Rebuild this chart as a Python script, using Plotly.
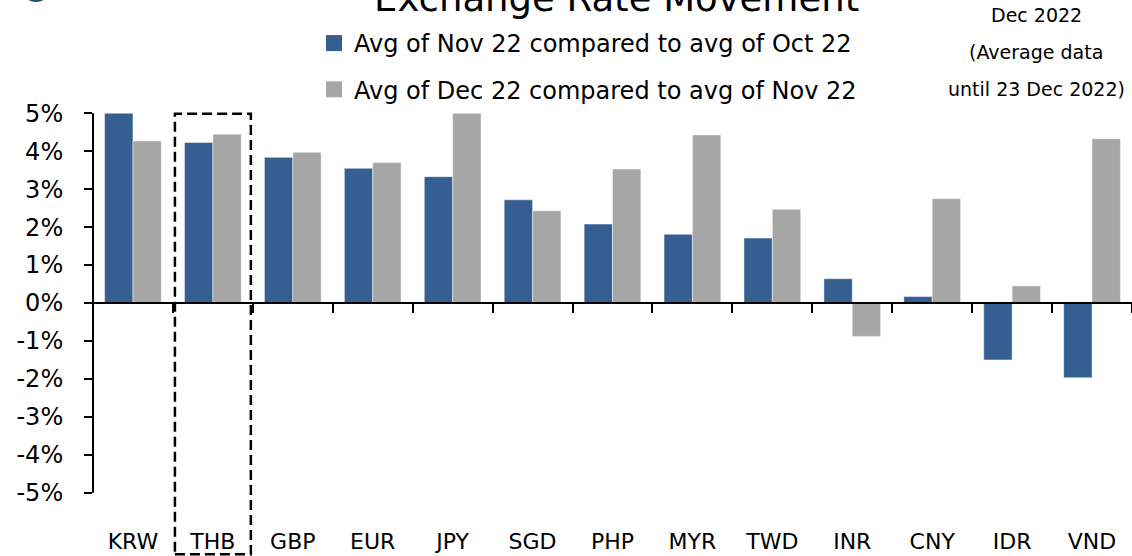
import plotly.graph_objects as go

categories = ["KRW", "THB", "GBP", "EUR", "JPY", "SGD", "PHP", "MYR", "TWD", "INR", "CNY", "IDR", "VND"]
nov_vs_oct = [5.00, 4.23, 3.84, 3.55, 3.33, 2.72, 2.08, 1.81, 1.71, 0.64, 0.17, -1.50, -1.97]
dec_vs_nov = [4.27, 4.45, 3.97, 3.70, 5.00, 2.43, 3.53, 4.43, 2.47, -0.88, 2.75, 0.45, 4.33]
series_names = ["Avg of Nov 22 compared to avg of Oct 22", "Avg of Dec 22 compared to avg of Nov 22"]
y_ticks = [-5, -4, -3, -2, -1, 0, 1, 2, 3, 4, 5]
title_text = "Exchange Rate Movement"
note_lines = ["Dec 2022", "(Average data", "until 23 Dec 2022)"]
highlight = "THB"

BLUE = "#365F91"
GRAY = "#A6A6A6"
FONT = "DejaVu Sans"

W, H = 1132, 556
M_L, M_R, M_T, M_B = 93, 0, 112, 0
PW = W - M_L - M_R
PH = H - M_T - M_B
Y_MIN, Y_MAX = -6.668, 5.034
zero_pos = (0 - Y_MIN) / (Y_MAX - Y_MIN)

fig = go.Figure()
for vals, name, color, grp in [(nov_vs_oct, series_names[0], BLUE, "a"), (dec_vs_nov, series_names[1], GRAY, "b")]:
    fig.add_trace(go.Bar(x=categories, y=vals, name=name, legendgroup=grp, showlegend=False,
                         marker=dict(color=color, line=dict(color="rgba(255,255,255,0.45)", width=1))))
    # legend entry with a larger square swatch
    fig.add_trace(go.Scatter(x=[None], y=[None], mode="markers", name=name, legendgroup=grp,
                             marker=dict(symbol="square", size=17, color=color), hoverinfo="skip"))

# invisible trace carrying the category label axis at the bottom
fig.add_trace(go.Scatter(x=categories, y=[None] * len(categories), xaxis="x2", showlegend=False, hoverinfo="skip"))

idx = categories.index(highlight)
fig.add_shape(type="rect", xref="x", yref="y", x0=idx - 0.475, x1=idx + 0.475, y0=-6.62, y1=4.985,
              line=dict(color="black", width=2.5, dash="10px,5px"), fillcolor="rgba(0,0,0,0)", layer="above")
# y axis line from -5% to 5%
fig.add_shape(type="line", xref="paper", yref="y", x0=0, x1=0, y0=min(y_ticks), y1=max(y_ticks),
              line=dict(color="black", width=2), layer="above")
# logo fragment
fig.add_shape(type="circle", xref="paper", yref="paper",
              x0=(14 - M_L) / PW, x1=(58 - M_L) / PW,
              y0=(H - 2) / PH, y1=(H + 60) / PH,
              line=dict(width=0), fillcolor="#1d4f6a")

fig.add_annotation(text=title_text, xref="paper", yref="paper", x=(616 - M_L) / PW, y=1,
                   yshift=M_T - (-2), xanchor="center", yanchor="middle", showarrow=False,
                   font=dict(family=FONT, size=37, color="black"))
for i, line in enumerate(note_lines):
    fig.add_annotation(text=line, xref="paper", yref="paper", x=(1036 - M_L) / PW, y=1,
                       yshift=M_T - (15 + 37 * i), xanchor="center", yanchor="middle", showarrow=False,
                       font=dict(family=FONT, size=19, color="black"))

fig.update_layout(
    width=W, height=H,
    margin=dict(l=M_L, r=M_R, t=M_T, b=M_B, pad=0, autoexpand=False),
    paper_bgcolor="white", plot_bgcolor="white",
    barmode="group", bargap=0.29, bargroupgap=0,
    font=dict(family=FONT, color="black"),
    legend=dict(x=(314 - M_L) / PW, y=1, yref="paper", xanchor="left", yanchor="bottom",
                orientation="v", font=dict(family=FONT, size=24, color="black"),
                tracegroupgap=12, bgcolor="rgba(0,0,0,0)", itemsizing="trace"),
    xaxis=dict(type="category", range=[-0.5, len(categories) - 0.5], anchor="free", position=zero_pos,
               showline=True, linecolor="black", linewidth=2, ticks="outside", tickson="boundaries",
               ticklen=9, tickwidth=2, tickcolor="black", showticklabels=False, showgrid=False,
               zeroline=False, automargin=False),
    xaxis2=dict(type="category", overlaying="x", matches="x", anchor="y", side="bottom",
                showline=False, ticks="", showticklabels=True, ticklabelposition="inside",
                tickfont=dict(family=FONT, size=22, color="black"), showgrid=False, zeroline=False,
                automargin=False),
    yaxis=dict(range=[Y_MIN, Y_MAX], tickvals=y_ticks, ticktext=[f"{v}%" for v in y_ticks],
               ticks="outside", ticklen=8, tickwidth=2, tickcolor="black", showline=False,
               showgrid=False, zeroline=False, ticklabelstandoff=16, automargin=False,
               tickfont=dict(family=FONT, size=24, color="black")),
    showlegend=True,
)

fig.write_html("out.html", config={"displayModeBar": False},
               post_script="document.body.style.margin='0';document.body.style.padding='0';")
